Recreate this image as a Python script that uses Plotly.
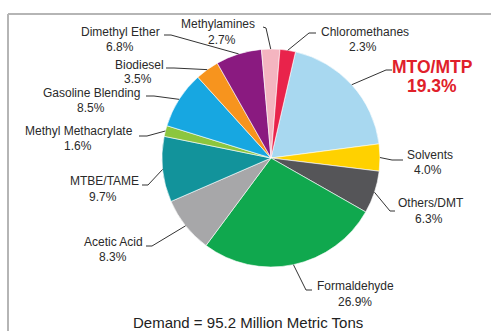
import numpy as np
import plotly.graph_objects as go

# Methanol demand by end use (share of total, %)
segments = ["MTO/MTP", "Solvents", "Others/DMT", "Formaldehyde", "Acetic Acid",
            "MTBE/TAME", "Methyl Methacrylate", "Gasoline Blending", "Biodiesel",
            "Dimethyl Ether", "Methylamines", "Chloromethanes"]
shares = [19.3, 4.0, 6.3, 26.9, 8.3, 9.7, 1.6, 8.5, 3.5, 6.8, 2.7, 2.3]
slice_colors = ["#a8d8f0", "#ffd100", "#555558", "#10a84e", "#a7a7a9",
                "#12939b", "#8cc63e", "#17a7e1", "#f7941e", "#8a1a80",
                "#f4b5c0", "#e9234b"]
total_demand = 95.2

W, H = 491, 331
CX, CY, R = 271, 158, 109      # pie centre and radius in pixels
ROTATION = 13                   # start angle of first slice, degrees clockwise from 12 o'clock

# name line centre and percent line centre (px) for each label
label_pos = {
    "MTO/MTP": ((432, 67), (432, 86)), "Solvents": ((430, 155), (428, 170)),
    "Others/DMT": ((431, 203), (429, 219)), "Formaldehyde": ((355, 286), (355, 302)),
    "Acetic Acid": ((113, 242), (113, 257)), "MTBE/TAME": ((104, 181), (103, 197)),
    "Methyl Methacrylate": ((79, 131), (78, 146)),
    "Gasoline Blending": ((91, 93), (91, 108)), "Biodiesel": ((139, 65), (138, 79)),
    "Dimethyl Ether": ((120, 32), (120, 47)), "Methylamines": ((218, 24), (222, 40)),
    "Chloromethanes": ((365, 32), (363, 47)),
}
# leader-line points next to the text (px); the rim end comes from the data
leader_pts = {
    "MTO/MTP": [(392, 70), (386, 70)], "Solvents": [(403, 160), (392, 160)],
    "Others/DMT": [(395, 211), (390, 211)], "Formaldehyde": [(312, 290), (306, 290)],
    "Acetic Acid": [(146, 246), (152, 246)], "MTBE/TAME": [(142, 185), (148, 185)],
    "Methyl Methacrylate": [(139, 136), (147, 136)],
    "Gasoline Blending": [(146, 96), (154, 96)], "Biodiesel": [(166, 68), (174, 68)],
    "Dimethyl Ether": [(164, 35), (171, 35)], "Methylamines": [(263, 27), (266, 28)],
    "Chloromethanes": [(316, 33), (309, 33)],
}

FONT = "Liberation Sans, Arial"


def px(x):
    return x / W


def py(y):
    return 1 - y / H


fig = go.Figure(go.Pie(
    labels=segments, values=shares, sort=False, direction="clockwise",
    rotation=ROTATION, textinfo="none", hoverinfo="label+percent",
    marker=dict(colors=slice_colors, line=dict(color="rgba(255,255,255,0.6)", width=1)),
    domain=dict(x=[px(CX - R), px(CX + R)], y=[py(CY + R), py(CY - R)]),
    showlegend=False,
))

# slice mid-angles from the data, used to anchor the leader lines on the rim
cum = np.cumsum([0] + shares)
tot = cum[-1]
shapes = []
annotations = []
for i, name in enumerate(segments):
    mid = np.deg2rad(ROTATION + 360 * (cum[i] + cum[i + 1]) / 2 / tot)
    ex, ey = CX + R * np.sin(mid), CY - R * np.cos(mid)
    (ax, ay), (bx, by) = leader_pts[name]
    path = f"M{px(ax)},{py(ay)} L{px(bx)},{py(by)} L{px(ex)},{py(ey)}"
    shapes.append(dict(type="path", xref="paper", yref="paper", path=path,
                       line=dict(color="#333333", width=1)))
    (nx, ny), (qx, qy) = label_pos[name]
    if name == "MTO/MTP":
        fnt = dict(family=FONT, size=17.5, color="#e0202a")
        lines = [(f"<b>{name}</b>", nx, ny), (f"<b>{shares[i]:.1f}%</b>", qx, qy)]
    else:
        fnt = dict(family=FONT, size=12, color="#2a2a2a")
        lines = [(name, nx, ny), (f"{shares[i]:.1f}%", qx, qy)]
    for txt, tx, ty in lines:
        annotations.append(dict(x=px(tx), y=py(ty), xref="paper", yref="paper",
                                text=txt, showarrow=False, xanchor="center",
                                yanchor="middle", font=fnt))

# frame lines (top and left)
shapes.append(dict(type="line", xref="paper", yref="paper", x0=px(8), y0=py(14),
                   x1=1, y1=py(14), line=dict(color="#b5b5b5", width=2)))
shapes.append(dict(type="line", xref="paper", yref="paper", x0=px(8), y0=py(14),
                   x1=px(8), y1=0, line=dict(color="#b5b5b5", width=2)))

annotations.append(dict(x=px(248), y=py(322), xref="paper", yref="paper",
                        text=f"Demand = {total_demand} Million Metric Tons",
                        showarrow=False, xanchor="center", yanchor="middle",
                        font=dict(family=FONT, size=15, color="#222222")))

fig.update_layout(width=W, height=H, margin=dict(l=0, r=0, t=0, b=0),
                  paper_bgcolor="white", plot_bgcolor="white",
                  shapes=shapes, annotations=annotations)

fig.write_html("out.html")
